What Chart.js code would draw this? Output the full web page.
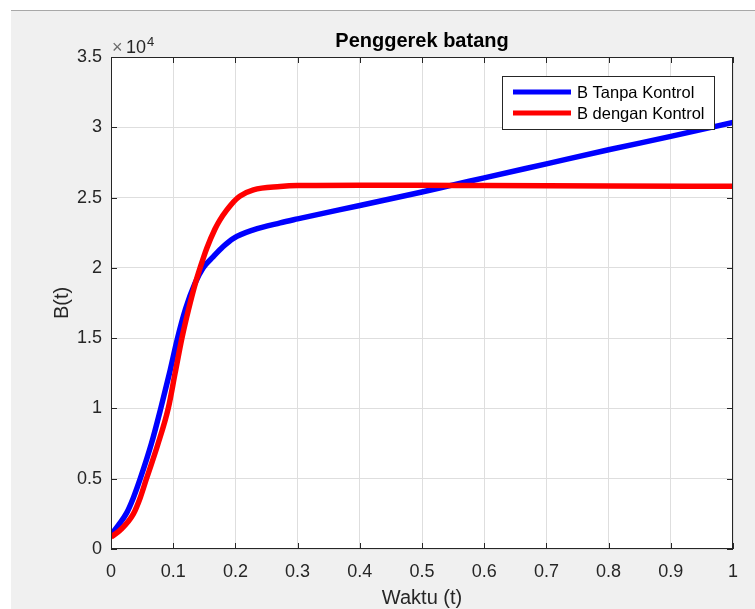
<!DOCTYPE html>
<html>
<head>
<meta charset="utf-8">
<title>Penggerek batang</title>
<script src="https://cdn.jsdelivr.net/npm/chart.js@4.4.1/dist/chart.umd.min.js"></script>
<style>
  html, body { margin: 0; padding: 0; background: #fff; }
  #wrap { position: relative; width: 755px; height: 609px; }
</style>
</head>
<body>
<div id="wrap"><canvas id="grafik"></canvas></div>
<script>
// nilai (B dalam satuan asli, sumbu ditulis x10^4)
var tanpaT = [0, 0.012, 0.025, 0.036, 0.047, 0.065, 0.08, 0.094, 0.107, 0.12, 0.135, 0.148, 0.1645, 0.18, 0.197, 0.229, 0.272, 0.3, 0.4, 0.5, 0.545, 0.6, 0.7, 0.8, 0.9, 1.0];
var tanpaB = [1000, 1700, 2550, 3650, 5000, 7500, 10000, 12500, 15000, 17100, 18900, 20000, 20800, 21500, 22100, 22700, 23200, 23480, 24440, 25400, 25850, 26400, 27400, 28400, 29350, 30350];

var denganT = [0, 0.015, 0.036, 0.047, 0.057, 0.075, 0.092, 0.103, 0.114, 0.125, 0.135, 0.144, 0.154, 0.167, 0.175, 0.186, 0.197, 0.207, 0.229, 0.272, 0.3, 0.4, 0.5, 0.6, 0.8, 1.0];
var denganB = [850, 1350, 2500, 3650, 5000, 7400, 10000, 12500, 15000, 17100, 18800, 20100, 21400, 22750, 23400, 24100, 24700, 25100, 25550, 25780, 25850, 25880, 25870, 25850, 25820, 25800];

var xTicks = [0, 0.1, 0.2, 0.3, 0.4, 0.5, 0.6, 0.7, 0.8, 0.9, 1];
var yTicks = [0, 5000, 10000, 15000, 20000, 25000, 30000, 35000];

var labelTanpa = "B Tanpa Kontrol";
var labelDengan = "B dengan Kontrol";

function pasang(t, b) {
    var out = [];
    for (var i = 0; i < t.length; i++) {
        out.push({ x: t[i], y: b[i] });
    }
    return out;
}

var huruf = '"Liberation Sans", Arial, Helvetica, sans-serif';
var abu = "#262626";

// latar figure ala matlab + kotak, tick dalam, legenda, pengali
var hiasan = {
    id: "hiasan",
    beforeDraw: function(c) {
        var g = c.ctx;
        g.save();
        g.fillStyle = "#ffffff";
        g.fillRect(0, 0, c.width, c.height);
        g.fillStyle = "#f0f0f0";
        g.fillRect(11, 11, c.width - 11, c.height - 11);
        g.strokeStyle = "#a8a8a8";
        g.lineWidth = 1;
        g.beginPath();
        g.moveTo(11, 10.5);
        g.lineTo(c.width, 10.5);
        g.stroke();
        var a = c.chartArea;
        g.fillStyle = "#ffffff";
        g.fillRect(a.left, a.top, a.right - a.left, a.bottom - a.top);
        g.restore();
    },
    afterDraw: function(c) {
        var g = c.ctx;
        var a = c.chartArea;
        var sx = c.scales.x, sy = c.scales.y;
        g.save();
        g.strokeStyle = abu;
        g.lineWidth = 1;
        g.beginPath();
        sx.ticks.forEach(function(t) {
            var p = Math.round(sx.getPixelForValue(t.value)) + 0.5;
            g.moveTo(p, a.bottom); g.lineTo(p, a.bottom - 6);
            g.moveTo(p, a.top); g.lineTo(p, a.top + 6);
        });
        sy.ticks.forEach(function(t) {
            var p = Math.round(sy.getPixelForValue(t.value)) + 0.5;
            g.moveTo(a.left, p); g.lineTo(a.left + 6, p);
            g.moveTo(a.right, p); g.lineTo(a.right - 6, p);
        });
        g.stroke();
        g.strokeRect(Math.round(a.left) + 0.5, Math.round(a.top) + 0.5, Math.round(a.right - a.left) - 1, Math.round(a.bottom - a.top) - 1);

        // judul
        g.fillStyle = "#000000";
        g.font = "bold 20px " + huruf;
        g.textAlign = "center";
        g.textBaseline = "middle";
        g.fillText("Penggerek batang", (a.left + a.right) / 2, 41);

        // x10^4
        g.textAlign = "left";
        g.textBaseline = "alphabetic";
        g.font = "18px " + huruf;
        g.fillStyle = "#6a6a6a";
        g.fillText("\u00d7", a.left + 1, 53);
        g.fillStyle = abu;
        g.fillText("10", a.left + 15, 53);
        g.font = "13px " + huruf;
        g.fillText("4", a.left + 36, 46);

        // legenda
        var lx = 502, ly = 76, lw = 212, lh = 53;
        g.fillStyle = "#ffffff";
        g.fillRect(lx, ly, lw, lh);
        g.strokeStyle = abu;
        g.strokeRect(lx + 0.5, ly + 0.5, lw, lh);
        var isi = [c.data.datasets[1], c.data.datasets[0]];
        g.font = "16.5px " + huruf;
        g.textBaseline = "middle";
        isi.forEach(function(ds, i) {
            var yy = ly + 16 + i * 21;
            g.strokeStyle = ds.borderColor;
            g.lineWidth = 5;
            g.beginPath();
            g.moveTo(lx + 11, yy);
            g.lineTo(lx + 69, yy);
            g.stroke();
            g.fillStyle = "#000000";
            g.fillText(ds.label, lx + 75, yy + 1);
        });
        g.restore();
    }
};

var ctx = document.getElementById("grafik").getContext("2d");
var grafik = new Chart(ctx, {
    type: "line",
    data: {
        datasets: [{
            label: labelDengan,
            data: pasang(denganT, denganB),
            borderColor: "#ff0000",
            borderWidth: 5.5,
            pointRadius: 0,
            cubicInterpolationMode: "monotone",
            fill: false,
            order: 0
        }, {
            label: labelTanpa,
            data: pasang(tanpaT, tanpaB),
            borderColor: "#0000ff",
            borderWidth: 5.5,
            pointRadius: 0,
            cubicInterpolationMode: "monotone",
            fill: false,
            order: 1
        }]
    },
    options: {
        responsive: true,
        maintainAspectRatio: false,
        animation: false,
        layout: { padding: { top: 57, right: 22, left: 0, bottom: 0 } },
        plugins: {
            legend: { display: false },
            title: { display: false },
            tooltip: { enabled: false }
        },
        scales: {
            x: {
                type: "linear",
                min: 0,
                max: 1,
                afterBuildTicks: function(s) {
                    s.ticks = xTicks.map(function(v) { return { value: v }; });
                },
                afterFit: function(s) { s.height = 60; },
                grid: { color: "#dedede", drawTicks: false },
                border: { display: false },
                ticks: {
                    padding: 12,
                    color: abu,
                    font: { family: huruf, size: 18 },
                    maxRotation: 0,
                    autoSkip: false,
                    callback: function(v) { return String(Math.round(v * 10) / 10); }
                },
                title: {
                    display: true,
                    text: "Waktu (t)",
                    color: abu,
                    font: { family: huruf, size: 20, lineHeight: 1 },
                    padding: { top: 0, bottom: 1 }
                }
            },
            y: {
                type: "linear",
                min: 0,
                max: 35000,
                afterBuildTicks: function(s) {
                    s.ticks = yTicks.map(function(v) { return { value: v }; });
                },
                afterFit: function(s) { s.width = 111; },
                grid: { color: "#dedede", drawTicks: false },
                border: { display: false },
                ticks: {
                    padding: 9,
                    color: abu,
                    font: { family: huruf, size: 18 },
                    autoSkip: false,
                    callback: function(v) { return String(v / 10000); }
                },
                title: {
                    display: true,
                    text: "B(t)",
                    color: abu,
                    font: { family: huruf, size: 20, lineHeight: 1 },
                    padding: { top: 52, bottom: 0 }
                }
            }
        }
    },
    plugins: [hiasan]
});
</script>
</body>
</html>
